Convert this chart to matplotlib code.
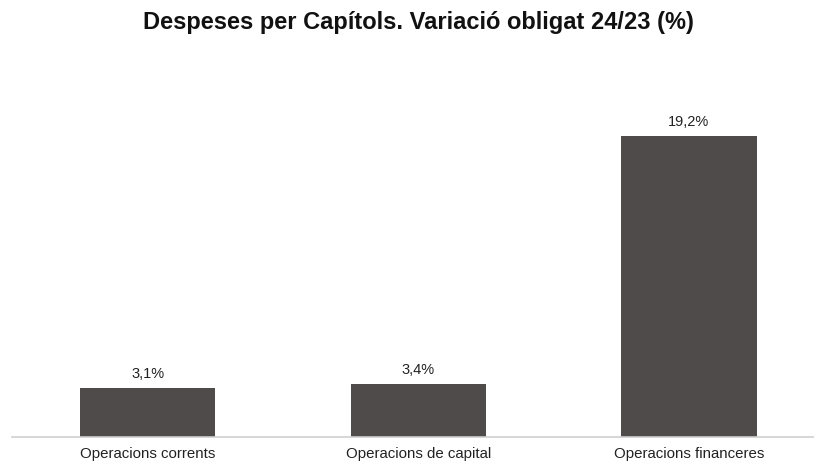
import matplotlib
matplotlib.use("Agg")
from matplotlib import pyplot as plt

categories = ["Operacions corrents", "Operacions de capital", "Operacions financeres"]
values = [3.1, 3.4, 19.2]
value_labels = ["3,1%", "3,4%", "19,2%"]
title = "Despeses per Capítols. Variació obligat 24/23 (%)"

plt.rcParams['font.family'] = ['Liberation Sans', 'DejaVu Sans']

W, H = 814, 462
fig = plt.figure(figsize=(W / 100, H / 100), dpi=100)

# axes placed in pixel terms; right side runs past the figure edge like the source
left_px, right_px = 12.25, 824.25
base_px, top_px = 437, 80
ax = fig.add_axes([left_px / W, (H - base_px) / H,
                   (right_px - left_px) / W, (base_px - top_px) / H])

x = range(len(categories))
bars = ax.bar(x, values, width=0.5, color="#4f4b4a")
ax.set_xlim(-0.5, len(categories) - 0.5)
ax.set_ylim(0, (base_px - top_px) / 15.68)

for b, lab in zip(bars, value_labels):
    ax.annotate(lab, (b.get_x() + b.get_width() / 2, b.get_height()),
                xytext=(0, 5), textcoords="offset points",
                ha="center", va="bottom", fontsize=10.5, color="#222222")

ax.set_xticks(list(x))
ax.set_xticklabels(categories, fontsize=10.8, color="#222222")
ax.tick_params(axis="x", length=0, pad=7.5)
ax.set_yticks([])
for s in ["top", "right", "left"]:
    ax.spines[s].set_visible(False)
ax.spines["bottom"].set_color("#cfcfcf")
ax.spines["bottom"].set_linewidth(1.2)

fig.text(418 / W, 1 - 22 / H, title, ha="center", va="center",
         fontsize=17, fontweight="bold", color="#111111")

fig.savefig("out.png", dpi=100)
